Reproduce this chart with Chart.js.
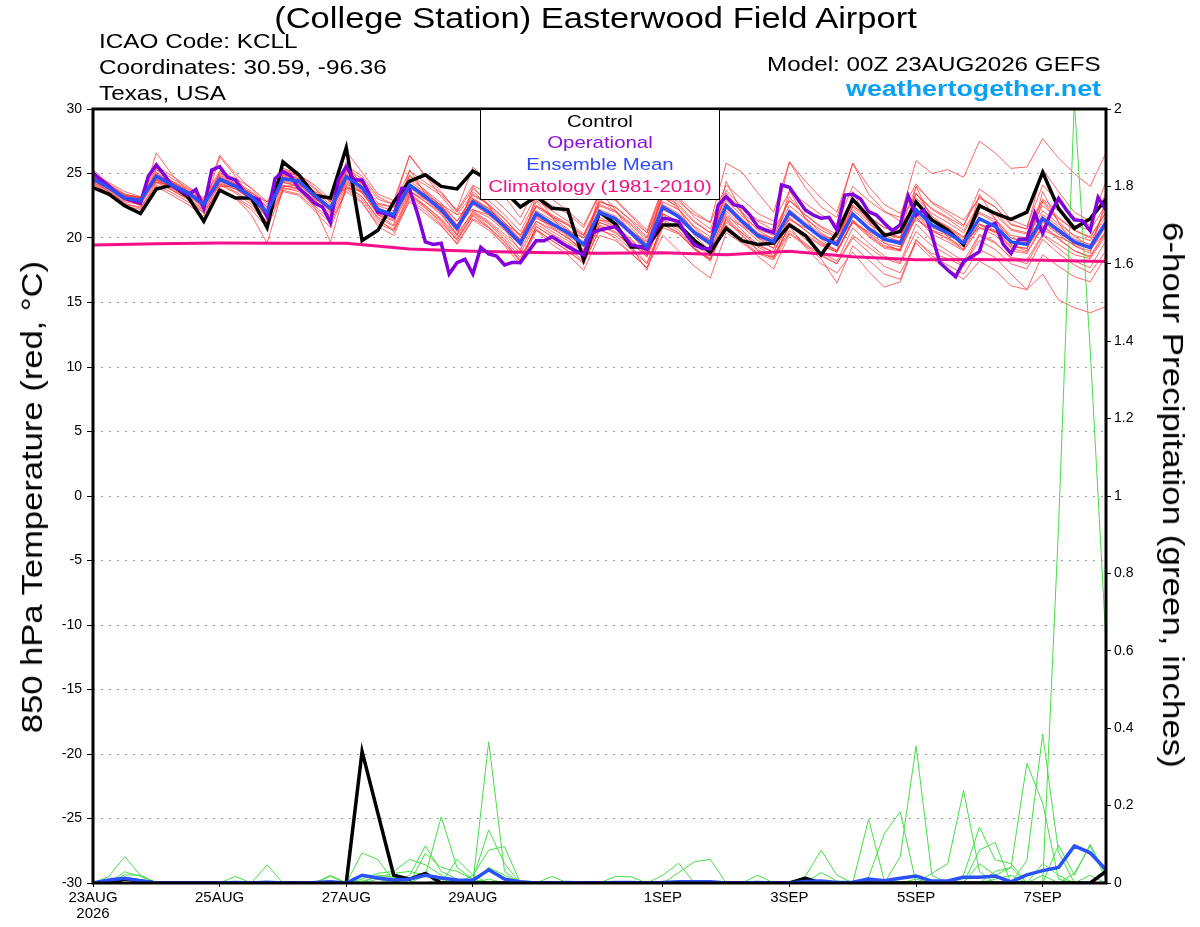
<!DOCTYPE html>
<html>
<head>
<meta charset="utf-8">
<script src="https://cdn.jsdelivr.net/npm/chart.js@4.4.1/dist/chart.umd.min.js"></script>
<style>
  body { margin: 0; background: #fff; }
  #wrap { position: relative; width: 1200px; height: 927px; overflow: hidden; font-family: "Liberation Sans", Arial, sans-serif; background:#fff; }
  #c { position: absolute; left: 0; top: 0; }
  .t { position: absolute; white-space: nowrap; color: #000; line-height: 1; }
  #legend { position: absolute; left: 480px; top: 109px; width: 238px; height: 89px; border: 1px solid #000; background: #fff; }
  #legend div { position: absolute; left: 0; width: 238px; text-align: center; font-size: 17px; line-height: 1; transform: scaleX(1.2); transform-origin: 50% 50%; white-space: nowrap; }
</style>
</head>
<body>
<div id="wrap">
  <canvas id="c" width="1200" height="927"></canvas>

  <div class="t" style="left:0;width:1191px;text-align:center;top:4px;font-size:29px;transform:scaleX(1.19);transform-origin:50% 50%;">(College Station) Easterwood Field Airport</div>
  <div class="t" style="left:99px;top:29.5px;font-size:21px;transform:scaleX(1.157);transform-origin:0 50%;">ICAO Code: KCLL</div>
  <div class="t" style="left:99px;top:56px;font-size:21px;transform:scaleX(1.157);transform-origin:0 50%;">Coordinates: 30.59, -96.36</div>
  <div class="t" style="left:99px;top:82px;font-size:21px;transform:scaleX(1.157);transform-origin:0 50%;">Texas, USA</div>
  <div class="t" style="right:99px;top:54px;font-size:20px;transform:scaleX(1.21);transform-origin:100% 50%;">Model: 00Z 23AUG2026 GEFS</div>
  <div class="t" style="right:99px;top:78px;font-size:22px;font-weight:bold;color:#0aa0f5;transform:scaleX(1.22);transform-origin:100% 50%;">weathertogether.net</div>

  <div id="legend">
    <div style="top:3px;color:#000;">Control</div>
    <div style="top:24px;color:#8a10dc;">Operational</div>
    <div style="top:45.5px;color:#2f4bff;">Ensemble Mean</div>
    <div style="top:68px;color:#f01585;">Climatology (1981-2010)</div>
  </div>

  <div class="t" style="left:-318px;top:481.5px;width:700px;height:30px;line-height:30px;font-size:30px;text-align:center;transform:rotate(-90deg) scaleX(1.152);transform-origin:50% 50%;">850 hPa Temperature (red, °C)</div>
  <div class="t" style="left:823px;top:480px;width:700px;height:30px;line-height:30px;font-size:30px;text-align:center;transform:rotate(90deg) scaleX(1.165);transform-origin:50% 50%;">6-hour Precipitation (green, inches)</div>
</div>

<script>
// ---------------- DATA ----------------
// x axis: forecast hour from 00Z 23AUG2026
const tickHours  = [0, 48, 96, 144, 216, 264, 312, 360];
const tickLabels = [['23AUG', '2026'], '25AUG', '27AUG', '29AUG', '1SEP', '3SEP', '5SEP', '7SEP'];
const tempTicks  = [-30, -25, -20, -15, -10, -5, 0, 5, 10, 15, 20, 25, 30];
const precipTicks = [0, 0.2, 0.4, 0.6, 0.8, 1, 1.2, 1.4, 1.6, 1.8, 2];

// 6-hourly 850 hPa temperature, control (black)
const controlTemp = [23.9,23.4,22.5,21.9,23.8,24.1,23.2,21.3, 23.7,23.1,23.1,20.8,25.9,24.9,23.3,23.1,
  27.0,19.8,20.6,22.8,24.4,24.9,24.0,23.8, 25.2,24.5,23.6,22.4,23.2,22.3,22.2,18.3,
  22.0,21.1,19.3,19.3,21.0,21.0,19.8,18.9, 20.75,19.8,19.5,19.6,21.0,20.2,18.7,20.4,
  23.0,21.65,20.2,20.5,22.8,21.4,20.6,19.5, 22.5,21.9,21.45,22.0,25.1,22.3,20.75,21.5, 23.0];

// 6-hourly ensemble mean (blue)
const meanTemp = [24.6,23.9,23.1,22.9,24.8,24.1,23.5,22.6, 24.55,24.0,23.2,22.0,24.6,24.4,23.3,22.3,
  24.75,23.9,22.2,21.8,24.1,23.2,22.2,20.75, 22.8,22.0,20.9,19.6,21.9,21.1,20.4,19.5,
  22.0,21.5,20.4,19.3,22.4,21.65,20.4,19.6, 22.5,21.3,20.2,19.7,22.0,21.0,20.05,19.5,
  21.85,20.75,19.9,19.6,22.2,21.0,20.4,19.6, 21.5,20.9,19.7,19.5,21.5,20.6,19.7,19.25, 21.2];

// 3-hourly operational run (purple)
const operationalTemp = [25.06,24.5,24.03,23.5,23.07,22.9,22.69,24.8,25.66,24.9,24.03,23.7,23.33,23.77,22.3,25.27,
  25.53,24.7,24.5,23.6,23.2,22.95,21.65,24.6,25.14,24.8,23.85,23.33,22.69,22.4,21.2,24.5,
  25.53,24.5,24.5,23.33,22.0,21.9,21.65,23.85,23.77,21.9,19.7,19.5,
  19.59,17.21,18.09,18.35,17.21,19.28,18.76,18.6,17.91,18.11,18.11,18.94,19.79,19.79,20.1,19.71,
  19.33,19.0,18.68,20.41,20.62,20.75,20.88,20.23,19.46,19.33,19.12,20.49,21.53,21.45,21.27,20.23,
  19.46,19.2,19.15,22.56,23.2,22.56,22.43,21.78,20.88,20.62,
  20.41,24.11,23.93,23.07,22.17,21.78,21.53,21.6,20.62,23.33,23.39,23.02,22.04,21.78,21.14,20.57,
  21.01,23.26,21.78,22.17,20.23,18.09,17.52,17.0,18.17,18.55,18.94,20.88,21.14,19.53,18.81,19.9,
  19.9,21.91,20.36,21.91,23.07,22.17,21.4,21.35,20.57,23.15,22.17];

// daily climatology 1981-2010 (pink)
const climTemp = [19.46,19.55,19.62,19.6,19.59,19.15,18.97,18.87,18.82,18.86,18.7,18.98,18.55,18.32,18.33,18.27,18.17];

// ensemble members (red), 6-hourly
const tM01 = [25.0,24.3,23.6,23.2,25.6,24.8,24.0,23.1,25.2,24.6,23.9,22.8,25.3,24.9,24.1,23.0,25.6,24.8,23.2,22.6,25.2,24.3,23.5,22.1,24.1,23.4,22.3,21.0,23.3,22.5,21.9,20.8,23.4,23.0,21.8,20.6,23.9,23.1,22.0,21.2,24.1,23.0,21.9,21.3,23.6,22.7,21.8,21.1,24.0,22.9,22.0,21.6,26.0,25.0,25.3,24.7,27.5,26.6,25.4,25.5,27.7,26.2,25.0,24.0,26.6];
const tM02 = [24.2,23.5,22.6,22.4,24.1,23.5,22.8,22.0,23.8,23.2,22.4,21.2,23.7,23.4,22.3,21.2,23.6,22.7,21.1,20.6,22.8,21.9,20.9,19.6,21.5,20.8,19.7,18.3,20.6,19.8,19.0,18.1,20.6,20.2,19.1,18.0,21.0,20.4,19.1,18.3,21.0,19.9,18.8,18.3,20.4,19.5,18.6,18.0,20.2,19.3,18.4,18.0,20.5,19.4,18.7,17.9,19.8,19.1,18.0,17.6,19.9,18.8,17.9,17.3,19.0];
const tM03 = [24.9,24.0,23.0,22.6,25.3,24.4,23.6,22.5,25.1,24.3,23.4,21.8,25.2,24.8,23.5,22.0,25.5,24.2,22.4,21.5,24.9,23.6,22.5,20.9,23.6,22.5,21.2,19.8,22.8,21.6,20.7,19.4,23.0,22.1,20.8,19.5,23.3,22.2,20.8,19.7,23.5,21.9,20.6,19.9,23.2,21.6,20.4,19.6,23.1,21.4,20.2,19.7,23.5,21.7,20.8,19.8,22.7,21.5,20.0,19.6,22.8,21.3,20.1,19.4,22.5];
const tM04 = [24.4,23.8,23.2,23.0,24.5,23.9,23.4,22.7,24.2,23.8,23.0,22.1,24.0,23.9,23.0,22.4,24.2,23.5,22.0,21.9,23.6,22.8,22.0,21.0,22.2,21.6,20.6,19.5,21.3,20.7,20.0,19.0,21.2,20.7,19.6,18.6,21.4,20.8,19.5,18.6,21.4,20.2,19.1,18.5,20.6,19.6,18.7,18.0,20.0,18.9,17.8,17.3,19.6,18.4,17.6,16.8,18.2,17.5,16.3,16.0,17.2,15.2,14.6,14.2,14.7];
const tM05 = [24.8,24.1,23.4,23.1,25.1,24.4,23.8,22.9,25.0,24.4,23.6,22.4,25.4,25.0,23.9,22.8,26.7,25.1,23.4,22.9,26.4,24.8,23.6,22.0,23.8,22.9,21.8,20.5,22.9,22.1,21.3,20.3,22.8,22.4,21.3,20.1,23.2,22.6,21.3,20.4,23.2,22.0,20.9,20.4,22.9,21.8,20.9,20.3,22.8,21.7,20.8,20.4,23.1,21.9,21.2,20.4,22.4,21.8,20.6,20.3,22.5,21.5,20.6,20.1,22.0];
const tM06 = [25.3,24.2,23.0,22.5,26.6,24.9,23.6,22.2,26.3,24.8,23.1,21.6,25.8,24.9,23.0,21.7,25.9,24.0,21.8,21.0,25.3,23.4,21.9,20.2,24.0,22.5,20.7,19.0,23.4,21.6,20.1,18.8,23.6,22.2,20.3,18.8,24.1,22.3,20.2,19.0,24.4,22.0,20.0,19.2,23.7,21.5,19.9,19.0,23.6,21.3,19.6,19.0,24.0,21.4,20.1,19.1,23.4,21.5,19.5,19.0,23.6,21.2,19.4,18.8,23.0];
const tM07 = [24.5,23.6,22.7,22.3,24.3,23.7,23.0,21.9,23.9,23.1,21.8,19.6,23.8,23.8,22.4,19.7,24.0,23.2,21.5,20.5,23.2,22.3,21.3,19.8,21.8,20.9,19.7,18.2,20.9,20.1,19.3,18.2,21.0,20.5,19.3,17.5,21.3,20.6,19.2,18.2,21.5,20.2,19.0,18.4,21.0,19.9,18.9,18.2,20.8,19.6,18.6,18.1,21.1,19.8,19.0,18.2,20.3,19.7,18.4,18.0,20.2,19.2,18.2,17.7,19.8];
const tM08 = [24.7,24.0,23.3,23.1,24.9,24.3,23.7,22.8,24.7,24.2,23.5,22.3,24.9,24.7,23.6,22.6,25.1,24.3,22.7,22.4,24.8,24.1,23.3,22.2,25.5,24.4,23.2,21.6,24.0,23.0,22.1,21.0,23.5,22.9,21.7,20.4,23.8,23.0,21.6,20.7,23.7,22.4,21.3,20.6,22.9,21.8,20.8,20.1,22.6,21.4,20.4,20.0,22.7,21.4,20.8,20.0,21.9,21.2,20.0,19.7,21.8,20.9,19.9,19.5,21.4];
const tM09 = [24.5,23.8,23.0,22.8,24.6,24.0,23.3,22.5,24.4,23.9,23.1,21.9,24.3,24.1,23.1,22.1,24.4,23.6,21.9,21.4,23.7,22.8,21.8,20.3,22.0,21.2,20.1,18.8,21.1,20.3,19.6,18.6,20.9,20.4,19.3,18.1,21.1,20.4,19.1,18.4,20.9,19.8,18.6,17.6,20.3,19.4,18.4,16.5,19.4,18.3,17.2,16.8,19.9,18.6,17.9,17.2,19.1,18.5,17.2,16.0,18.7,17.8,17.0,16.6,18.6];
const tM10 = [24.6,24.0,23.2,23.0,24.9,24.1,23.4,22.5,24.8,24.1,23.2,22.0,24.8,24.6,23.4,22.2,25.0,24.0,22.3,21.8,24.4,23.5,22.5,21.0,23.0,22.3,21.2,19.9,22.4,21.6,21.0,20.2,22.8,22.4,21.4,20.4,23.4,22.8,21.8,21.2,25.8,25.1,23.5,22.0,25.9,23.9,22.4,21.6,25.8,23.4,22.1,21.3,23.4,22.2,21.5,20.6,22.6,22.0,20.7,20.4,22.9,21.6,20.6,20.0,22.0];
const tM11 = [24.3,23.7,22.9,22.7,24.5,23.8,23.1,22.2,24.2,23.6,22.8,21.6,24.1,23.8,22.8,21.7,24.1,23.2,21.6,20.9,23.4,22.4,21.1,19.9,21.7,20.8,19.4,17.9,20.6,19.5,18.7,17.5,20.2,19.8,18.8,17.7,20.8,20.3,19.2,18.4,21.2,20.4,19.4,18.9,21.2,20.3,19.5,18.9,21.2,20.1,19.2,19.0,21.6,20.3,19.7,19.0,20.8,20.2,19.0,18.8,20.9,19.9,19.0,18.5,20.4];
const tM12 = [24.8,24.1,23.3,23.0,25.0,24.3,23.6,22.7,24.9,24.2,23.3,22.1,24.9,24.6,23.5,22.4,25.2,24.2,22.5,22.1,24.6,23.7,22.7,21.3,23.3,22.6,21.5,20.2,22.5,21.8,21.1,20.2,22.6,22.1,21.1,20.0,23.1,22.4,21.2,20.4,23.3,22.3,21.4,21.0,25.9,24.4,23.1,22.0,25.8,24.0,22.6,21.9,24.2,22.7,21.9,21.0,23.2,22.4,21.1,20.7,23.0,22.1,21.0,20.6,22.6];
const tM13 = [24.6,23.9,23.2,23.0,24.7,24.1,23.4,22.6,24.5,23.9,23.0,21.8,24.4,24.2,23.1,22.1,24.5,23.7,22.1,21.7,24.2,23.4,22.5,21.3,23.1,22.3,21.0,19.5,21.6,20.8,20.0,19.1,21.6,21.0,19.9,18.7,21.9,21.2,19.9,19.0,21.9,20.6,19.5,18.9,21.5,20.6,19.7,19.0,21.3,20.2,19.3,19.1,21.9,20.8,20.3,19.5,21.0,20.5,19.3,19.2,21.3,20.4,19.6,19.2,21.0];
const tM14 = [24.3,23.6,22.8,22.6,24.4,23.7,23.0,22.1,24.1,23.5,22.6,21.3,23.9,23.6,22.5,21.4,23.9,23.0,21.3,20.7,23.3,22.5,21.5,20.2,22.1,21.3,20.3,19.1,21.3,20.5,19.8,18.9,21.4,20.9,19.8,18.7,21.8,21.0,19.7,18.8,21.6,20.4,19.3,18.6,20.9,19.3,18.0,17.3,18.9,17.4,16.2,16.6,19.8,18.8,18.4,17.8,20.2,19.6,18.5,18.3,20.3,19.5,18.7,18.4,20.2];
const tM15 = [24.9,24.2,23.4,23.1,25.4,24.6,23.9,23.0,26.4,25.0,23.8,22.6,25.2,24.8,23.8,22.8,25.4,24.6,23.0,22.6,26.4,24.8,23.2,21.8,23.4,22.6,21.5,20.1,22.5,21.7,21.0,20.0,22.5,22.0,21.0,19.8,22.8,22.2,20.9,20.1,22.9,21.7,20.7,20.2,22.5,21.5,20.6,20.0,22.4,21.3,20.4,20.1,22.6,21.5,20.9,20.1,22.0,21.4,20.2,20.0,22.1,21.1,20.2,19.8,21.7];
const tM16 = [24.5,23.8,23.0,22.8,24.6,23.9,23.2,22.4,24.3,23.8,23.0,21.8,24.3,24.0,22.9,21.9,24.3,23.5,21.8,21.3,23.5,22.5,21.4,20.0,21.9,21.1,19.9,18.5,20.7,19.8,19.0,18.0,20.7,20.0,18.8,17.7,20.2,19.0,17.8,16.9,20.4,19.6,18.8,18.5,21.0,20.2,19.4,18.9,21.3,20.4,19.6,19.3,21.6,20.5,20.0,19.3,21.1,20.6,19.4,19.2,21.2,20.3,19.4,19.0,20.9];
const tM17 = [24.7,24.0,23.1,22.9,24.9,24.2,23.6,22.7,24.7,24.1,23.3,22.1,24.7,24.5,23.4,22.4,24.9,24.0,22.3,21.9,24.2,23.3,22.4,21.0,23.0,22.2,21.1,19.8,22.1,21.4,20.6,19.7,22.2,21.7,20.6,19.5,22.6,21.9,20.6,19.8,22.7,21.5,20.4,19.9,22.2,21.2,20.3,19.7,22.2,21.1,20.3,20.0,23.4,22.3,21.6,20.9,23.8,22.9,21.4,20.9,24.1,22.8,21.6,21.0,24.4];
const tM18 = [24.4,23.9,23.3,23.2,24.3,24.1,23.6,22.9,24.0,24.0,23.5,22.8,24.0,24.1,23.6,22.9,23.9,23.6,22.6,22.4,23.6,23.0,22.6,21.8,22.2,21.8,21.1,20.3,21.5,21.0,20.6,20.0,21.4,21.2,20.5,19.7,21.6,21.3,20.5,19.9,21.7,20.9,20.3,20.0,21.4,20.8,20.2,19.8,21.2,20.5,19.9,19.8,21.4,20.6,20.2,19.7,20.8,20.5,19.7,19.6,20.6,20.1,19.5,19.2,20.4];
const tM19 = [24.2,23.4,22.5,22.2,24.0,23.3,22.6,21.7,23.8,23.1,22.2,20.8,23.6,23.3,22.1,20.8,23.8,22.8,20.9,20.2,23.0,22.1,21.0,19.5,21.4,20.6,19.5,18.2,20.9,20.1,19.4,18.6,21.2,20.8,19.7,18.5,21.9,21.2,19.9,19.0,22.1,20.9,19.8,19.2,21.6,20.6,19.6,19.0,21.4,20.3,19.4,19.1,21.8,20.6,19.9,19.1,21.1,20.4,19.2,18.9,21.0,20.0,19.0,18.6,20.6];
const tM20 = [24.6,23.9,23.1,22.9,24.8,24.1,23.5,22.6,24.6,24.0,23.2,21.9,24.7,24.5,23.4,22.3,24.7,23.8,22.1,21.6,23.9,23.0,22.0,20.5,22.6,21.8,20.7,19.4,21.7,20.9,20.2,19.3,21.9,21.4,20.2,19.1,22.2,21.6,20.3,19.4,22.3,21.1,20.0,19.5,21.8,20.9,20.0,19.4,22.5,21.6,20.8,20.6,24.0,22.8,22.1,21.4,23.1,22.4,21.0,20.7,25.3,23.6,22.0,21.3,23.4];

// 6-hour precipitation (inches): control (black) and ensemble mean (blue), 6-hourly
const controlPrecip = [0,0,0.01,0.005,0,0,0,0, 0,0,0,0,0,0,0,0, 0,0.34,0.18,0.02,0.01,0.025,0,0,
  0,0,0,0,0,0,0,0, 0,0,0,0,0,0,0,0, 0,0,0,0,0,0.012,0,0, 0,0,0,0,0,0,0,0, 0,0,0,0,0,0,0,0, 0.03];
const meanPrecip = [0,0.008,0.012,0.006,0,0,0,0, 0,0.001,0,0.002,0,0,0.001,0.003,
  0,0.02,0.013,0.008,0.01,0.02,0.013,0.008, 0.007,0.034,0.01,0.003,0,0,0.001,0,
  0,0.001,0.001,0,0.001,0.003,0.003,0.003, 0,0,0.001,0,0,0.004,0.005,0.001,
  0.002,0.01,0.006,0.012,0.018,0.005,0.005,0.015, 0.015,0.018,0.003,0.021,0.032,0.04,0.096,0.078, 0.034];

// member precipitation (green): [6-hour step index, inches]; all other steps are 0
const pM01 = [[1,0.017],[2,0.068],[3,0.02],[17,0.01],[18,0.025],[19,0.03],[20,0.061],[21,0.047],[22,0.02],[49,0.165],[50,0.005],[61,0.92],[62,2.02],[63,1.38],[64,0.62]];
const pM02 = [[2,0.029],[3,0.017],[20,0.02],[21,0.096],[22,0.03],[23,0.01],[49,0.015],[50,0.128],[51,0.184],[61,0.098],[62,0.02],[63,0.1],[64,0.02]];
const pM03 = [[2,0.021],[3,0.02],[21,0.077],[22,0.04],[23,0.03],[24,0.01],[51,0.068],[52,0.354],[53,0.02],[62,0.025],[63,0.096],[64,0.01]];
const pM04 = [[9,0.017],[21,0.02],[22,0.171],[23,0.04],[24,0.01],[53,0.025],[54,0.05],[55,0.239],[56,0.03]];
const pM05 = [[11,0.047],[23,0.061],[24,0.02],[55,0.02],[56,0.144],[57,0.06],[58,0.05]];
const pM06 = [[15,0.02],[25,0.365],[26,0.03],[56,0.085],[57,0.105]];
const pM07 = [[15,0.017],[24,0.01],[25,0.137],[26,0.05],[57,0.03],[58,0.04],[59,0.309],[60,0.206],[61,0.01]];
const pM08 = [[17,0.078],[18,0.06],[19,0.005],[24,0.02],[25,0.085],[26,0.094],[59,0.058],[60,0.385],[61,0.08]];
const pM09 = [[25,0.04],[26,0.02],[36,0.02],[37,0.051],[56,0.05],[57,0.02],[58,0.04],[60,0.05],[61,0.02]];
const pM10 = [[29,0.017],[37,0.027],[38,0.055],[39,0.061]];
const pM11 = [[33,0.017],[34,0.016],[42,0.02],[45,0.017],[46,0.085],[47,0.02]];
const pM12 = [[18,0.02],[19,0.015],[46,0.027],[47,0.005]];
const pM13 = [[17,0.005],[18,0.015],[19,0.025],[20,0.03],[21,0.02]];
const pM14 = [[57,0.01],[58,0.02]];
const pM15 = [[2,0.01],[25,0.01]];
const pM16 = [[22,0.01],[52,0.01]];
const pM17 = [];
const pM18 = [[60,0.02],[63,0.02]];
const pM19 = [];
const pM20 = [[18,0.01]];

// ---------------- BUILD ----------------
const STEPS = 65;
const tempMembers = [tM01,tM02,tM03,tM04,tM05,tM06,tM07,tM08,tM09,tM10,tM11,tM12,tM13,tM14,tM15,tM16,tM17,tM18,tM19,tM20];
const precipMembers = [pM01,pM02,pM03,pM04,pM05,pM06,pM07,pM08,pM09,pM10,pM11,pM12,pM13,pM14,pM15,pM16,pM17,pM18,pM19,pM20];

const xy = (arr, stepHours) => arr.map((v, i) => ({ x: i * stepHours, y: v }));
const expand = pairs => { const a = new Array(STEPS).fill(0); pairs.forEach(([i, v]) => { a[i] = v; }); return a; };

const RED = 'rgba(255,45,45,0.72)';
const GREEN = 'rgb(70,222,70)';
const datasets = [];

datasets.push({ data: xy(meanTemp, 6), borderColor: '#2a50ff', borderWidth: 3.5, yAxisID: 'y', order: 0 });
datasets.push({ data: xy(operationalTemp, 3), borderColor: '#8200dc', borderWidth: 3.5, yAxisID: 'y', order: 1 });
datasets.push({ data: xy(controlTemp, 6), borderColor: '#000000', borderWidth: 3.5, yAxisID: 'y', order: 2 });
datasets.push({ data: xy(climTemp, 24), borderColor: '#f5108a', borderWidth: 3, yAxisID: 'y', order: 3 });
datasets.push({ data: xy(meanPrecip, 6), borderColor: '#2a50ff', borderWidth: 3.5, yAxisID: 'y1', order: 4 });
datasets.push({ data: xy(controlPrecip, 6), borderColor: '#000000', borderWidth: 3.5, yAxisID: 'y1', order: 5 });
precipMembers.forEach(p => datasets.push({ data: xy(expand(p), 6), borderColor: GREEN, borderWidth: 1, yAxisID: 'y1', order: 6 }));
tempMembers.forEach(m => datasets.push({ data: xy(m, 6), borderColor: RED, borderWidth: 1, yAxisID: 'y', order: 7 }));

datasets.forEach(d => { d.pointRadius = 0; d.tension = 0; d.fill = false; d.borderJoinStyle = 'miter'; });

const framePlugin = {
  id: 'frame',
  afterDatasetsDraw(chart) {
    const { ctx, chartArea: a } = chart;
    ctx.save();
    ctx.strokeStyle = '#000';
    ctx.lineWidth = 3;
    ctx.beginPath();
    ctx.rect(a.left, a.top, a.right - a.left, a.bottom - a.top);
    ctx.stroke();
    ctx.restore();
  }
};

Chart.defaults.font.family = '"Liberation Sans", Arial, sans-serif';
Chart.defaults.color = '#000';

new Chart(document.getElementById('c'), {
  type: 'line',
  data: { datasets },
  plugins: [framePlugin],
  options: {
    responsive: false,
    animation: false,
    devicePixelRatio: 1,
    layout: { padding: { top: 109, left: 0, right: 0, bottom: 0 } },
    plugins: { legend: { display: false }, tooltip: { enabled: false } },
    scales: {
      x: {
        type: 'linear', min: 0, max: 384, position: 'bottom',
        afterBuildTicks: s => { s.ticks = tickHours.map(v => ({ value: v })); },
        afterFit: s => { s.height = 44; },
        ticks: {
          autoSkip: false, maxRotation: 0, minRotation: 0, padding: 3,
          font: { size: 15, lineHeight: 1.07 }, color: '#000',
          callback: v => tickLabels[tickHours.indexOf(v)]
        },
        grid: { drawOnChartArea: false, drawTicks: true, tickLength: 4, tickColor: '#000', color: '#000' },
        border: { display: false }
      },
      y: {
        type: 'linear', min: -30, max: 30, position: 'left',
        afterBuildTicks: s => { s.ticks = tempTicks.map(v => ({ value: v })); },
        afterFit: s => { s.width = 93; },
        ticks: { padding: 5, font: { size: 14 }, color: '#000', callback: v => String(v) },
        grid: { color: '#9a9a9a', lineWidth: 1, tickColor: '#000', tickLength: 6, drawTicks: true },
        border: { display: false, dash: [2, 6] }
      },
      y1: {
        type: 'linear', min: 0, max: 2, position: 'right',
        afterBuildTicks: s => { s.ticks = precipTicks.map(v => ({ value: v })); },
        afterFit: s => { s.width = 94; },
        ticks: { padding: 3, font: { size: 14 }, color: '#000', callback: v => String(Math.round(v * 10) / 10) },
        grid: { drawOnChartArea: false, tickColor: '#000', tickLength: 5, drawTicks: true },
        border: { display: false }
      }
    }
  }
});
</script>
</body>
</html>
